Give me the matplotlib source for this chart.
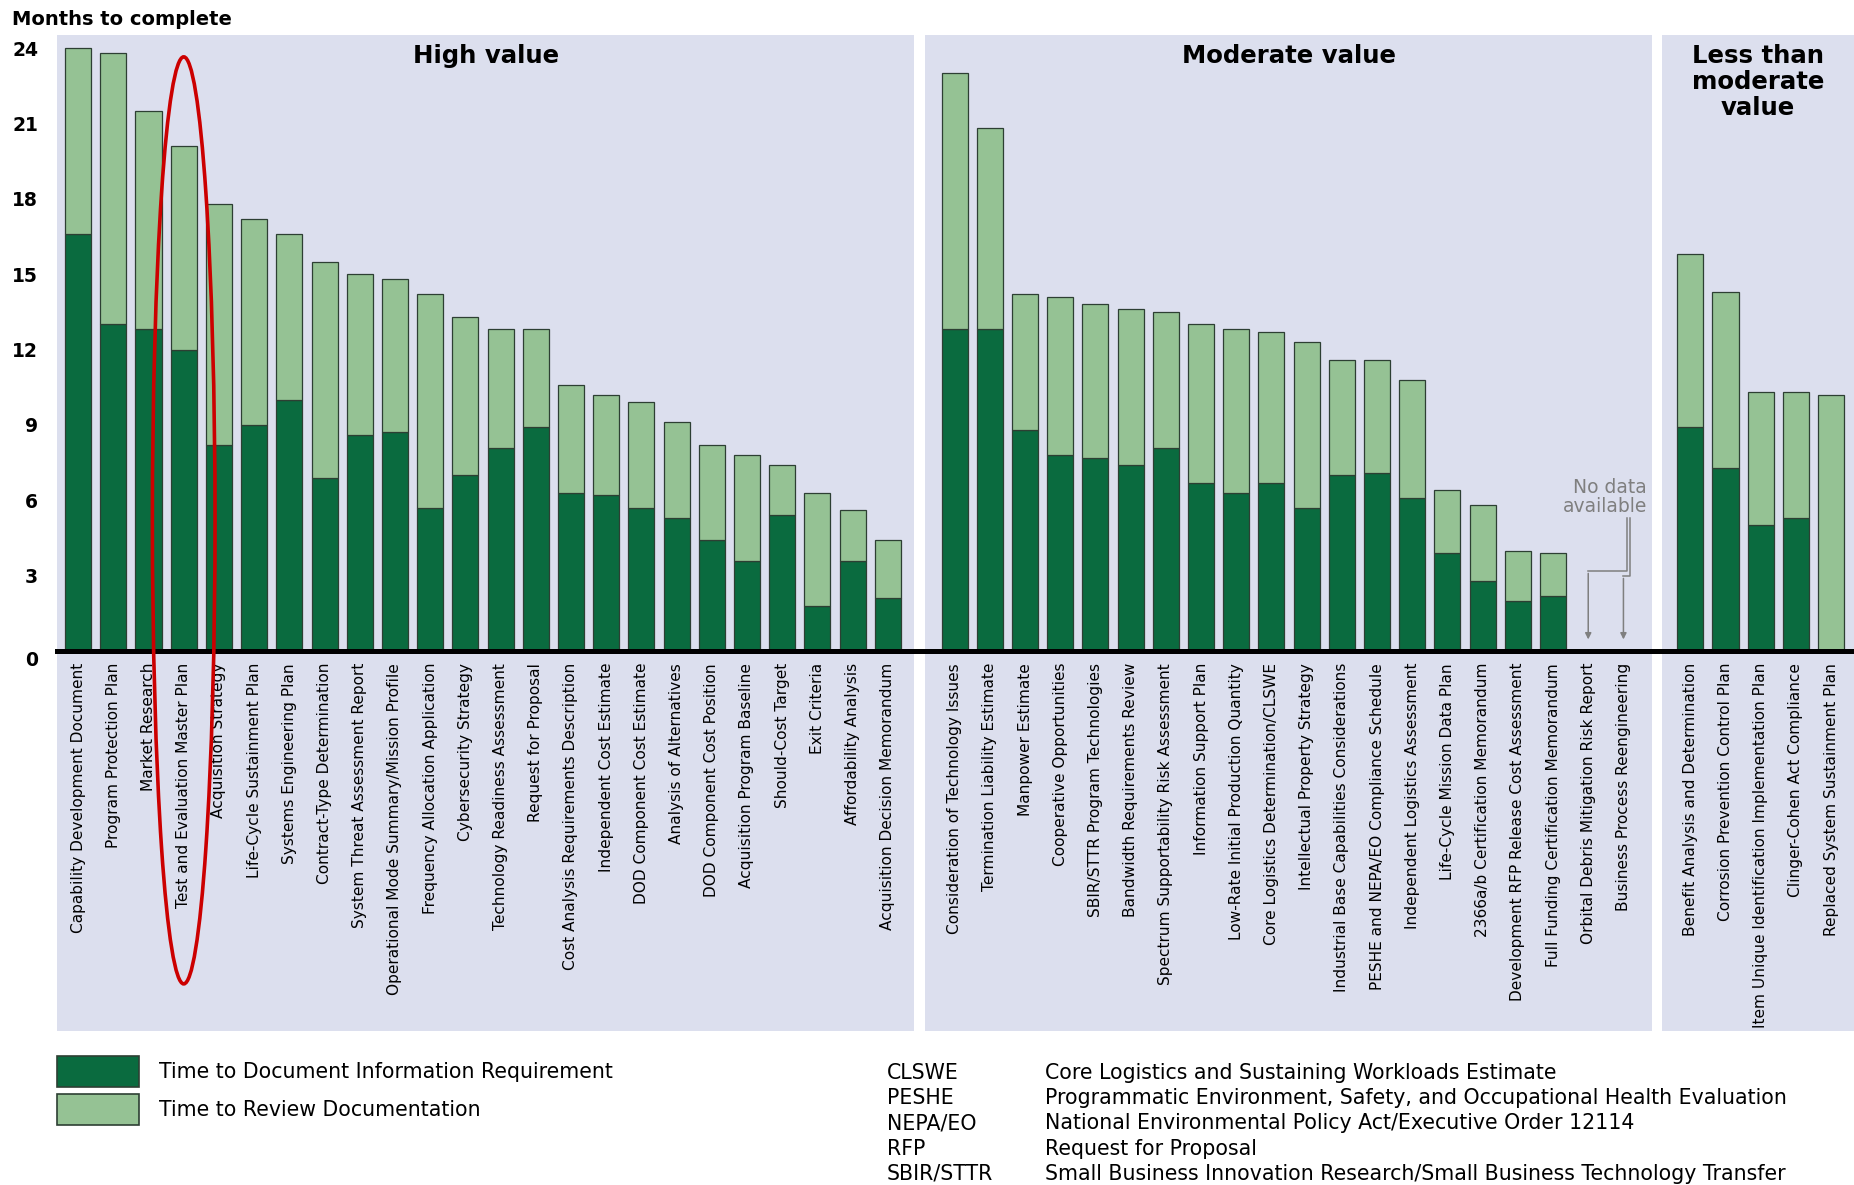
import numpy as np
import matplotlib
matplotlib.use("Agg")
import matplotlib.pyplot as plt
from matplotlib.patches import Rectangle, Ellipse
from matplotlib.transforms import blended_transform_factory

# months to complete (document part + review part)
high_labels = ["Capability Development Document", "Program Protection Plan", "Market Research",
               "Test and Evaluation Master Plan", "Acquisition Strategy", "Life-Cycle Sustainment Plan",
               "Systems Engineering Plan", "Contract-Type Determination", "System Threat Assessment Report",
               "Operational Mode Summary/Mission Profile", "Frequency Allocation Application",
               "Cybersecurity Strategy", "Technology Readiness Assessment", "Request for Proposal",
               "Cost Analysis Requirements Description", "Independent Cost Estimate",
               "DOD Component Cost Estimate", "Analysis of Alternatives", "DOD Component Cost Position",
               "Acquisition Program Baseline", "Should-Cost Target", "Exit Criteria",
               "Affordability Analysis", "Acquisition Decision Memorandum"]
high_doc = [16.6, 13.0, 12.8, 12.0, 8.2, 9.0, 10.0, 6.9, 8.6, 8.7, 5.7, 7.0,
            8.1, 8.9, 6.3, 6.2, 5.7, 5.3, 4.4, 3.6, 5.4, 1.8, 3.6, 2.1]
high_review = [7.4, 10.8, 8.7, 8.1, 9.6, 8.2, 6.6, 8.6, 6.4, 6.1, 8.5, 6.3,
               4.7, 3.9, 4.3, 4.0, 4.2, 3.8, 3.8, 4.2, 2.0, 4.5, 2.0, 2.3]

mod_labels = ["Consideration of Technology Issues", "Termination Liability Estimate", "Manpower Estimate",
              "Cooperative Opportunities", "SBIR/STTR Program Technologies", "Bandwidth Requirements Review",
              "Spectrum Supportability Risk Assessment", "Information Support Plan",
              "Low-Rate Initial Production Quantity", "Core Logistics Determination/CLSWE",
              "Intellectual Property Strategy", "Industrial Base Capabilities Considerations",
              "PESHE and NEPA/EO Compliance Schedule", "Independent Logistics Assessment",
              "Life-Cycle Mission Data Plan", "2366a/b Certification Memorandum",
              "Development RFP Release Cost Assessment", "Full Funding Certification Memorandum",
              "Orbital Debris Mitigation Risk Report", "Business Process Reengineering"]
mod_doc = [12.8, 12.8, 8.8, 7.8, 7.7, 7.4, 8.1, 6.7, 6.3, 6.7, 5.7, 7.0, 7.1, 6.1,
           3.9, 2.8, 2.0, 2.2, None, None]
mod_review = [10.2, 8.0, 5.4, 6.3, 6.1, 6.2, 5.4, 6.3, 6.5, 6.0, 6.6, 4.6, 4.5, 4.7,
              2.5, 3.0, 2.0, 1.7, None, None]

less_labels = ["Benefit Analysis and Determination", "Corrosion Prevention Control Plan",
               "Item Unique Identification Implementation Plan", "Clinger-Cohen Act Compliance",
               "Replaced System Sustainment Plan"]
less_doc = [8.9, 7.3, 5.0, 5.3, 0.0]
less_review = [6.9, 7.0, 5.3, 5.0, 10.2]

group_titles = ["High value", "Moderate value", "Less than\nmoderate\nvalue"]
legend_labels = ["Time to Document Information Requirement", "Time to Review Documentation"]
abbrevs = ["CLSWE", "PESHE", "NEPA/EO", "RFP", "SBIR/STTR"]
abbrev_defs = ["Core Logistics and Sustaining Workloads Estimate",
               "Programmatic Environment, Safety, and Occupational Health Evaluation",
               "National Environmental Policy Act/Executive Order 12114",
               "Request for Proposal",
               "Small Business Innovation Research/Small Business Technology Transfer"]

DARK = "#0a6b3f"
LIGHT = "#95c294"
EDGE = "#2d3f33"
PANEL = "#dcdfee"

W, H = 1854, 1185
fig = plt.figure(figsize=(W / 100, H / 100), dpi=100)
ax = fig.add_axes([57 / W, 1 - 651 / H, 1 - 57 / W, 616 / H])
ax.patch.set_visible(False)
for s in ax.spines.values():
    s.set_visible(False)

# slot positions, with gaps between the three groups
x_high = np.arange(len(high_labels), dtype=float)
x_mod = 24.9 + np.arange(len(mod_labels))
x_less = 45.8 + np.arange(len(less_labels))

x_all = np.concatenate([x_high, x_mod, x_less])
labels_all = high_labels + mod_labels + less_labels
doc_all = np.array(high_doc + mod_doc + less_doc, dtype=float)
rev_all = np.array(high_review + mod_review + less_review, dtype=float)
ok = ~np.isnan(doc_all)

bw = 0.74
ax.bar(x_all[ok], doc_all[ok], width=bw, color=DARK, edgecolor=EDGE, linewidth=0.9, zorder=3)
ax.bar(x_all[ok], rev_all[ok], bottom=doc_all[ok], width=bw, color=LIGHT, edgecolor=EDGE,
       linewidth=0.9, zorder=3)

ax.set_xlim(-0.6, 50.45)
ax.set_ylim(0, 24.52)

# shaded panels behind each group, running down behind the labels
tr = blended_transform_factory(ax.transData, ax.transAxes)
spans = [(-0.6, 23.75), (24.06, 44.72), (45.0, 50.6)]
for (a, b), title in zip(spans, group_titles):
    ax.add_patch(Rectangle((a, -0.617), b - a, 1.617, transform=tr, facecolor=PANEL,
                           edgecolor="none", zorder=0, clip_on=False))
    ax.text((a + min(b, 50.45)) / 2, 0.985, title, transform=tr, ha="center", va="top",
            fontsize=17.6, fontweight="bold", linespacing=1.1, zorder=4)

ax.axhline(0, color="black", linewidth=3.6, zorder=5, clip_on=False)

ax.set_yticks(range(0, 25, 3))
ax.set_yticklabels([str(v) for v in range(0, 25, 3)], fontsize=13.5, fontweight="bold")
ax.get_yticklabels()[0].set_va("top")
ax.tick_params(axis="y", length=0, pad=13.5)
ax.set_xticks(x_all)
ax.set_xticklabels(labels_all, rotation=90, fontsize=11.1, va="top", ha="center")
ax.tick_params(axis="x", length=0, pad=8.6)

# "No data available" pointers
gray = "#7f7f7f"
nd = x_mod[18:20]
ax.text(44.57, 6.13, "No data\navailable", ha="right", va="center", fontsize=13.5,
        color=gray, linespacing=0.95, zorder=4)
ax.plot([nd[1] + 0.1, nd[1] + 0.1, nd[0]], [5.3, 3.2, 3.2], color=gray, lw=1.1, zorder=4)
ax.plot([nd[1] + 0.2, nd[1] + 0.2, nd[1]], [5.3, 3.0, 3.0], color=gray, lw=1.1, zorder=4)
for xx, ys in [(nd[0], 3.2), (nd[1], 3.0)]:
    ax.annotate("", xy=(xx, 0.35), xytext=(xx, ys),
                arrowprops=dict(arrowstyle="-|>", color=gray, lw=1.1, mutation_scale=9),
                zorder=4)

# red highlight around the Test and Evaluation Master Plan
ax.add_patch(Ellipse((x_high[3], 5.2), width=1.78, height=36.9, fill=False,
                     edgecolor="#cc0000", linewidth=2.6, zorder=10, clip_on=False))

fig.text(12 / W, 1 - 10 / H, "Months to complete", ha="left", va="top",
         fontsize=14, fontweight="bold")

# legend drawn by hand: big swatches with labels beside them
for i, (lab, col) in enumerate(zip(legend_labels, [DARK, LIGHT])):
    top = 1056 + i * 38
    fig.patches.append(Rectangle((57 / W, 1 - (top + 31) / H), 82 / W, 31 / H,
                                 transform=fig.transFigure, facecolor=col,
                                 edgecolor=EDGE, linewidth=1.2))
    fig.text(159 / W, 1 - (top + 16) / H, lab, ha="left", va="center", fontsize=14.8)

for i, (ab, df) in enumerate(zip(abbrevs, abbrev_defs)):
    yy = 1 - (1073 + i * 25.2) / H
    fig.text(887 / W, yy, ab, ha="left", va="center", fontsize=14.8)
    fig.text(1045 / W, yy, df, ha="left", va="center", fontsize=14.8)

fig.savefig("out.png", dpi=100)
